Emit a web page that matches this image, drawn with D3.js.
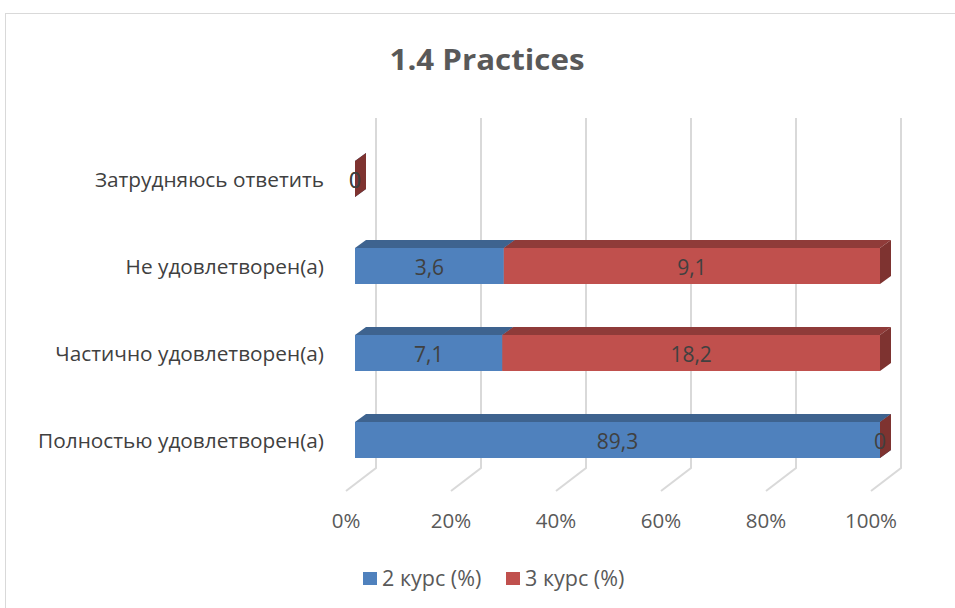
<!DOCTYPE html>
<html>
<head>
<meta charset="utf-8">
<script src="https://cdn.jsdelivr.net/npm/d3@7"></script>
<style>
  html, body { margin: 0; padding: 0; background: #ffffff; }
  svg { display: block; }
  text { font-family: "Open Sans", "Liberation Sans", sans-serif; }
</style>
</head>
<body>
<script>
// ---- Data ----
const title = "1.4 Practices";
const categories = ["Затрудняюсь ответить", "Не удовлетворен(а)", "Частично удовлетворен(а)", "Полностью удовлетворен(а)"];
const seriesNames = ["2 курс (%)", "3 курс (%)"];
const course2 = [0, 3.6, 7.1, 89.3];
const course3 = [0, 9.1, 18.2, 0];
const labels2 = ["0", "3,6", "7,1", "89,3"];
const labels3 = ["0", "9,1", "18,2", "0"];
const tickValues = [0, 0.2, 0.4, 0.6, 0.8, 1.0];
const tickLabels = ["0%", "20%", "40%", "60%", "80%", "100%"];

// ---- Styles ----
const W = 955, H = 608;
const colors = [
  { front: "#4F81BD", top: "#3E638F", side: "#355682" },
  { front: "#C0504D", top: "#8F3B39", side: "#7E3330" }
];
const textColor = "#404040";
const gridColor = "#d9d9d9";
const depthX = 11, depthY = -8;   // bar depth offset
const wallX = 30, wallY = -23;    // back wall offset from floor front

const svg = d3.select("body").append("svg").attr("width", W).attr("height", H);

// chart border
svg.append("rect").attr("x", 5.5).attr("y", 13.5).attr("width", W + 10).attr("height", H + 10)
  .attr("fill", "#fff").attr("stroke", gridColor).attr("stroke-width", 1);

// Title
svg.append("text").attr("x", 487).attr("y", 70).attr("text-anchor", "middle")
  .attr("font-size", 29).attr("font-weight", "bold").attr("fill", "#595959")
  .attr("textLength", 195).attr("lengthAdjust", "spacingAndGlyphs")
  .text(title);

// scales
const x = d3.scaleLinear().domain([0, 1]).range([346, 871]); // floor front
const y = d3.scalePoint().domain(categories).range([179, 440]);
const barH = 36;
const floorY = 491;
const wallTop = 118;

// gridlines (back wall + floor diagonal)
const grid = svg.append("g").attr("stroke", gridColor).attr("stroke-width", 2).attr("fill", "none");
tickValues.forEach(t => {
  const fx = x(t);
  const bx = fx + wallX, by = floorY + wallY;
  grid.append("path").attr("d", `M${fx},${floorY} L${bx},${by} L${bx},${wallTop}`);
});

// tick labels
svg.append("g").selectAll("text").data(tickValues).join("text")
  .attr("x", d => x(d)).attr("y", 528).attr("text-anchor", "middle")
  .attr("font-size", 20.5).attr("fill", "#595959")
  .text((d, i) => tickLabels[i]);

// stacked data
const rows = categories.map((c, i) => {
  const total = course2[i] + course3[i];
  const p2 = total ? course2[i] / total : 0;
  const p3 = total ? course3[i] / total : 0;
  return { cat: c, segs: [
    { s: 0, x0: 0, x1: p2, label: labels2[i] },
    { s: 1, x0: p2, x1: p2 + p3, label: labels3[i] }
  ] };
});

// bar x-scale: front face of bars
const xb = d3.scaleLinear().domain([0, 1]).range([355, 880]);

const bars = svg.append("g");
rows.forEach(r => {
  const yTop = y(r.cat) - barH / 2;
  const yBot = yTop + barH;
  r.segs.forEach(sg => {
    const x0 = xb(sg.x0), x1 = xb(sg.x1);
    const c = colors[sg.s];
    // front
    bars.append("rect").attr("x", x0).attr("y", yTop).attr("width", Math.max(0, x1 - x0)).attr("height", barH)
      .attr("fill", c.front);
    // top
    bars.append("path").attr("d",
      `M${x0},${yTop} L${x0 + depthX},${yTop + depthY} L${x1 + depthX},${yTop + depthY} L${x1},${yTop} Z`)
      .attr("fill", c.top);
    // side
    bars.append("path").attr("d",
      `M${x1},${yTop} L${x1 + depthX},${yTop + depthY} L${x1 + depthX},${yBot + depthY} L${x1},${yBot} Z`)
      .attr("fill", c.side);
  });
});

// data labels
rows.forEach(r => {
  r.segs.forEach(sg => {
    const x0 = xb(sg.x0), x1 = xb(sg.x1);
    let cx = (x0 + x1) / 2;
    svg.append("text").attr("x", cx).attr("y", y(r.cat) + 9)
      .attr("text-anchor", "middle").attr("font-size", 21).attr("fill", textColor)
      .text(sg.label);
  });
});

// category labels
svg.append("g").selectAll("text").data(categories).join("text")
  .attr("x", 324).attr("y", d => y(d) + 8).attr("text-anchor", "end")
  .attr("font-size", 20.8).attr("fill", textColor)
  .text(d => d);

// legend
const legend = svg.append("g");
const legendX = [363, 506];
seriesNames.forEach((n, i) => {
  legend.append("rect").attr("x", legendX[i]).attr("y", 572).attr("width", 14).attr("height", 13)
    .attr("fill", colors[i].front);
  legend.append("text").attr("x", legendX[i] + 19).attr("y", 586)
    .attr("font-size", 21.5).attr("fill", "#595959").text(n);
});
</script>
</body>
</html>
